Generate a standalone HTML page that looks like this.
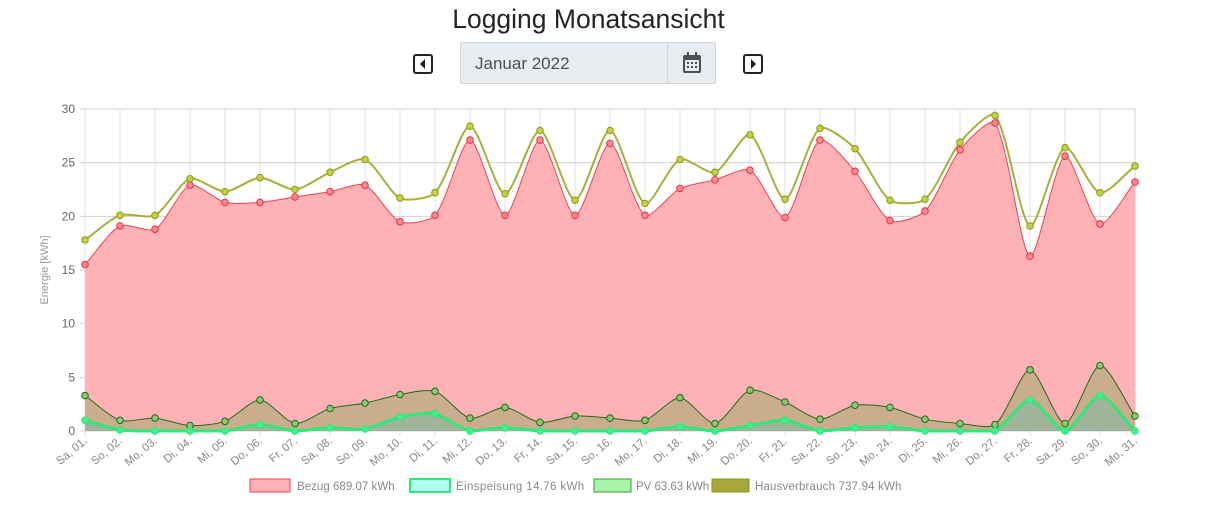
<!DOCTYPE html>
<html><head><meta charset="utf-8"><style>
body{margin:0;width:1219px;height:526px;background:#fff;font-family:"Liberation Sans",sans-serif;overflow:hidden;position:relative}
.title{position:absolute;left:0;width:1177px;top:4px;text-align:center;font-size:26.5px;color:#212529}
.ig{position:absolute;left:460px;top:42px;width:254px;height:40px;background:#e9ecef;border:1px solid #ced4da;border-radius:2px}
.ig .t{position:absolute;left:14px;top:11px;font-size:17px;color:#495057}
.ig .sep{position:absolute;left:206px;top:0;width:1px;height:40px;background:#ced4da}
</style></head><body>
<div class="title">Logging Monatsansicht</div>
<div class="ig"><span class="t">Januar 2022</span><div class="sep"></div>
<svg style="position:absolute;left:221px;top:9px" width="20" height="22"><rect x="1" y="3" width="18" height="18" rx="2" fill="#495057"/><rect x="3" y="8" width="14" height="11" fill="#e9ecef"/><rect x="5" y="0" width="2" height="5" fill="#495057"/><rect x="13" y="0" width="2" height="5" fill="#495057"/><g fill="#495057"><rect x="5" y="10" width="2" height="2"/><rect x="9" y="10" width="2" height="2"/><rect x="13" y="10" width="2" height="2"/><rect x="5" y="14" width="2" height="2"/><rect x="9" y="14" width="2" height="2"/><rect x="13" y="14" width="2" height="2"/></g></svg>
</div>
<svg style="position:absolute;left:413px;top:54px" width="20" height="20"><rect x="1" y="1" width="18" height="18" rx="2" fill="none" stroke="#222" stroke-width="2"/><path d="M12 5 L7 10 L12 15Z" fill="#222"/></svg>
<svg style="position:absolute;left:743px;top:54px" width="20" height="20"><rect x="1" y="1" width="18" height="18" rx="2" fill="none" stroke="#222" stroke-width="2"/><path d="M8 5 L13 10 L8 15Z" fill="#222"/></svg>
<svg id="c" style="position:absolute;left:0;top:0" width="1219" height="526"></svg>
<script>
const H=[17.8,20.1,20.1,23.5,22.3,23.6,22.5,24.1,25.3,21.7,22.2,28.4,22.1,28.0,21.5,28.0,21.2,25.3,24.1,27.6,21.6,28.2,26.3,21.5,21.6,26.9,29.4,19.1,26.4,22.2,24.7];
const B=[15.5,19.1,18.8,22.9,21.3,21.3,21.8,22.3,22.9,19.5,20.1,27.1,20.1,27.1,20.1,26.8,20.1,22.6,23.4,24.3,19.9,27.1,24.2,19.6,20.5,26.2,28.7,16.3,25.6,19.3,23.2];
const P=[3.3,1.0,1.2,0.5,0.9,2.9,0.7,2.1,2.6,3.4,3.7,1.2,2.2,0.8,1.4,1.2,1.0,3.1,0.7,3.8,2.7,1.1,2.4,2.2,1.1,0.7,0.6,5.7,0.7,6.1,1.4];
const E=[1.0,0.1,0,0,0,0.6,0,0.3,0.2,1.3,1.6,0,0.3,0,0,0,0,0.4,0,0.5,1.0,0,0.3,0.4,0,0,0,2.9,0,3.3,0];
const L=["Sa, 01.","So, 02.","Mo, 03.","Di, 04.","Mi, 05.","Do, 06.","Fr, 07.","Sa, 08.","So, 09.","Mo, 10.","Di, 11.","Mi, 12.","Do, 13.","Fr, 14.","Sa, 15.","So, 16.","Mo, 17.","Di, 18.","Mi, 19.","Do, 20.","Fr, 21.","Sa, 22.","So, 23.","Mo, 24.","Di, 25.","Mi, 26.","Do, 27.","Fr, 28.","Sa, 29.","So, 30.","Mo, 31."];
const X=i=>85+i*35,Y=v=>431-v*10.733;
let s='';
for(let i=0;i<31;i++)s+=`<line x1="${X(i)}" y1="109" x2="${X(i)}" y2="436" stroke="#e2e2e2"/>`;
for(let v=0;v<=30;v+=5){s+=`<line x1="80" y1="${Y(v)}" x2="1135" y2="${Y(v)}" stroke="#d0d0d0"/><text x="75" y="${Y(v)+4}" text-anchor="end" font-size="12" fill="#666">${v}</text>`;}
s+=`<line x1="1135" y1="109" x2="1135" y2="431" stroke="#d0d0d0"/>`;
function line(a){
  const p=a.map((v,i)=>[X(i),Y(v)]);const t=0.25;let d=`M${p[0][0]} ${p[0][1].toFixed(1)}`;
  const cp=p.map((c,i)=>{const pr=p[Math.max(0,i-1)],nx=p[Math.min(p.length-1,i+1)];
    const d01=Math.hypot(c[0]-pr[0],c[1]-pr[1]),d12=Math.hypot(nx[0]-c[0],nx[1]-c[1]);
    let fa=d01/(d01+d12)||0,fb=d12/(d01+d12)||0;fa*=t;fb*=t;
    return {p:[c[0]-fa*(nx[0]-pr[0]),c[1]-fa*(nx[1]-pr[1])],n:[c[0]+fb*(nx[0]-pr[0]),c[1]+fb*(nx[1]-pr[1])]};});
  for(let i=1;i<p.length;i++){let c1=cp[i-1].n,c2=cp[i].p;
    const cl=y=>Math.min(431,Math.max(109,y));
    d+=` C${c1[0].toFixed(1)} ${cl(c1[1]).toFixed(1)} ${c2[0].toFixed(1)} ${cl(c2[1]).toFixed(1)} ${p[i][0]} ${p[i][1].toFixed(1)}`;}
  return d;}
const area=a=>line(a)+` L1135 431 L85 431Z`;
s+=`<path d="${area(B)}" fill="#ffb2b5"/><path d="${area(P)}" fill="#c9ad8c"/><path d="${area(E)}" fill="#a0b49a"/>`;
s+=`<path d="${line(B)}" fill="none" stroke="#f0404e" stroke-width="1"/>`;
s+=`<path d="${line(P)}" fill="none" stroke="#1e6a1e" stroke-width="1"/>`;
s+=`<path d="${line(E)}" fill="none" stroke="#2ee87a" stroke-width="3"/>`;
s+=`<path d="${line(H)}" fill="none" stroke="#a8b03a" stroke-width="2"/>`;
const dots=(a,f,st)=>a.forEach((v,i)=>s+=`<circle cx="${X(i)}" cy="${Y(v).toFixed(1)}" r="3.3" fill="${f}" stroke="${st}"/>`);
dots(B,'#ff8a94','#e8303e');dots(P,'#8cc870','#1e6a1e');dots(E,'#40f090','#2ee87a');dots(H,'#c8d040','#8a9a20');
L.forEach((t,i)=>s+=`<text transform="translate(${X(i)+3},442) rotate(-40)" text-anchor="end" font-size="11.5" fill="#888">${t}</text>`);
s+=`<text transform="translate(48,270) rotate(-90)" text-anchor="middle" font-size="11" fill="#999">Energie [kWh]</text>`;
const lg=[[250,'#ffb2b5','#f0404e','Bezug 689.07 kWh',297],[410,'#b0fff0','#2ee87a','Einspeisung 14.76 kWh',456],[594,'#aaf5aa','#3a9a3a','PV 63.63 kWh',636],[712,'#a8a83a','#8a9a20','Hausverbrauch 737.94 kWh',755]];
lg.forEach(([x,f,st,t,tx])=>s+=`<rect x="${x}" y="479" width="${x==594?37:x==712?37:40}" height="13" fill="${f}" stroke="${st}" stroke-width="${st=='#2ee87a'?2:1}"/><text x="${tx}" y="490" font-size="11.5" fill="#888" textLength="${t.length*6.1}">${t}</text>`);
document.getElementById('c').innerHTML=s;
</script>
</body></html>
